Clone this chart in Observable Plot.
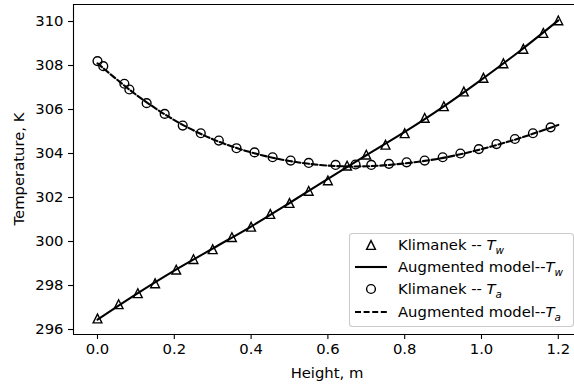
<!DOCTYPE html>
<html>
<head>
<meta charset="utf-8">
<script src="https://cdn.jsdelivr.net/npm/d3@7"></script>
<script src="https://cdn.jsdelivr.net/npm/@observablehq/plot@0.6"></script>
<style>
  html, body { margin: 0; padding: 0; background: #fff; }
  #chart svg { display: block; }
</style>
</head>
<body>
<div id="chart"></div>
<script>
// Klimanek measurements: water temperature T_w
const heightKlimTw = [0, 0.055, 0.105, 0.15, 0.205, 0.25, 0.3, 0.35, 0.4, 0.45, 0.5, 0.55, 0.6,
  0.65, 0.7, 0.75, 0.8, 0.852, 0.902, 0.954, 1.005, 1.057, 1.109, 1.161, 1.2];
const tempKlimTw = [296.5, 297.15, 297.65, 298.1, 298.72, 299.2, 299.65, 300.2, 300.67, 301.25, 301.75, 302.3, 302.78,
  303.45, 303.95, 304.4, 304.92, 305.62, 306.15, 306.82, 307.44, 308.1, 308.76, 309.48, 310.05];

// Klimanek measurements: air temperature T_a
const heightKlimTa = [0, 0.015, 0.07, 0.083, 0.128, 0.175, 0.222, 0.269, 0.316, 0.362, 0.409, 0.456, 0.503,
  0.55, 0.62, 0.672, 0.713, 0.759, 0.805, 0.852, 0.899, 0.945, 0.993, 1.039, 1.087, 1.134, 1.18];
const tempKlimTa = [308.2, 307.97, 307.17, 306.91, 306.29, 305.8, 305.27, 304.92, 304.59, 304.24, 304.05, 303.83, 303.68,
  303.57, 303.48, 303.5, 303.48, 303.53, 303.6, 303.68, 303.83, 304.0, 304.2, 304.43, 304.66, 304.92, 305.19];

// Augmented model curves
const heightModel = [0, 0.1, 0.2, 0.3, 0.4, 0.5, 0.6, 0.7, 0.8, 0.9, 1.0, 1.1, 1.2];
const modelTw = [296.45, 297.6, 298.68, 299.68, 300.68, 301.75, 302.85, 303.92, 304.98, 306.12, 307.36, 308.66, 310.05];
const modelTa = [308.1, 306.68, 305.52, 304.65, 304.05, 303.66, 303.45, 303.42, 303.55, 303.8, 304.2, 304.7, 305.3];

const xTicks = [0, 0.2, 0.4, 0.6, 0.8, 1.0, 1.2];
const yTicks = [296, 298, 300, 302, 304, 306, 308, 310];

const tw = heightKlimTw.map((h, i) => ({h, t: tempKlimTw[i]}));
const ta = heightKlimTa.map((h, i) => ({h, t: tempKlimTa[i]}));
const mw = heightModel.map((h, i) => ({h, t: modelTw[i]}));
const ma = heightModel.map((h, i) => ({h, t: modelTa[i]}));

// matplotlib-style upward triangle (centred on its bounding box)
const triangleUp = {
  draw(ctx, size) {
    const h = Math.sqrt(size / Math.PI);
    ctx.moveTo(0, -h);
    ctx.lineTo(h, h);
    ctx.lineTo(-h, h);
    ctx.closePath();
  }
};

const FONT = "DejaVu Sans, sans-serif";
const FS = 14.8;
const DASH = "6,2.6";
const xDomain = [-0.0625, 1.2422];
const yDomain = [295.773, 310.773];

const plot = Plot.plot({
  width: 574,
  height: 386,
  marginLeft: 73,
  marginRight: 0,
  marginTop: 4,
  marginBottom: 52,
  style: {fontFamily: FONT, fontSize: FS + "px", color: "#000", background: "#fff"},
  x: {domain: xDomain},
  y: {domain: yDomain},
  marks: [
    Plot.axisX({ticks: xTicks, tickFormat: d3.format(".1f"), tickSize: 5, tickPadding: 4, label: null, strokeWidth: 1.1, fontSize: FS}),
    Plot.axisY({ticks: yTicks, tickFormat: d => String(d), tickSize: 5, tickPadding: 5, label: null, strokeWidth: 1.1, fontSize: FS}),
    Plot.ruleY(yDomain, {stroke: "#000", strokeWidth: 1.1}),
    Plot.ruleX([xDomain[0]], {stroke: "#000", strokeWidth: 1.1}),
    Plot.line(ma, {x: "h", y: "t", curve: "catmull-rom", stroke: "#000", strokeWidth: 2.1, strokeDasharray: DASH}),
    Plot.line(mw, {x: "h", y: "t", curve: "catmull-rom", stroke: "#000", strokeWidth: 2.1}),
    Plot.dot(tw, {x: "h", y: "t", symbol: triangleUp, r: 4.4, stroke: "#000", strokeWidth: 1.4, fill: "none"}),
    Plot.dot(ta, {x: "h", y: "t", symbol: "circle", r: 4.4, stroke: "#000", strokeWidth: 1.4, fill: "none"})
  ]
});

const svg = d3.select(plot);

// axis titles
svg.append("text")
  .attr("x", 327).attr("y", 377.5)
  .attr("text-anchor", "middle")
  .attr("font-family", FONT).attr("font-size", FS).attr("fill", "#000")
  .text("Height, m");
svg.append("text")
  .attr("transform", "translate(24,169) rotate(-90)")
  .attr("text-anchor", "middle")
  .attr("font-family", FONT).attr("font-size", FS).attr("fill", "#000")
  .text("Temperature, K");

// legend
const lg = svg.append("g").attr("text-anchor", "start");
lg.append("rect")
  .attr("x", 349.5).attr("y", 233.5).attr("width", 224).attr("height", 93)
  .attr("rx", 3)
  .style("fill", "#fff").style("fill-opacity", 0.8)
  .style("stroke", "#cccccc").style("stroke-width", "1.1px");

const entries = [
  {kind: "tri", text: "Klimanek -- ", sub: "w"},
  {kind: "solid", text: "Augmented model--", sub: "w"},
  {kind: "circ", text: "Klimanek -- ", sub: "a"},
  {kind: "dash", text: "Augmented model--", sub: "a"}
];
const rowY = [245, 267, 289, 312];
entries.forEach((e, i) => {
  const y = rowY[i];
  if (e.kind === "tri") {
    lg.append("path").attr("transform", `translate(371,${y})`)
      .attr("d", d3.symbol(triangleUp, Math.PI * 4.4 * 4.4)())
      .attr("fill", "none").attr("stroke", "#000").attr("stroke-width", 1.4);
  } else if (e.kind === "circ") {
    lg.append("circle").attr("cx", 371).attr("cy", y).attr("r", 4.4)
      .attr("fill", "none").attr("stroke", "#000").attr("stroke-width", 1.4);
  } else {
    lg.append("line").attr("x1", 355).attr("x2", 387).attr("y1", y).attr("y2", y)
      .attr("stroke", "#000").attr("stroke-width", 2.1)
      .attr("stroke-dasharray", e.kind === "dash" ? DASH : null);
  }
  const t = lg.append("text").attr("x", 398).attr("y", y + 5.3)
    .attr("text-anchor", "start")
    .attr("font-family", FONT).attr("font-size", FS).attr("fill", "#000");
  t.append("tspan").text(e.text);
  t.append("tspan").attr("font-style", "italic").text("T");
  t.append("tspan").attr("font-style", "italic").attr("font-size", FS * 0.7).attr("dy", 3.5).text(e.sub);
});

document.getElementById("chart").appendChild(plot);
</script>
</body>
</html>
